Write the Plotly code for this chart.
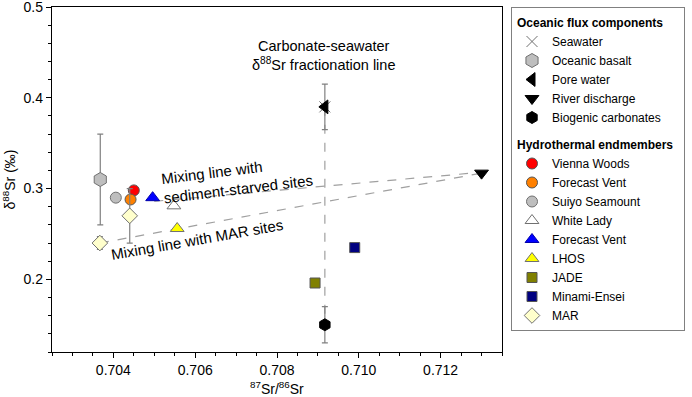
import plotly.graph_objects as go

# ---- data ----
ocean_names = ["Seawater", "Oceanic basalt", "Pore water", "River discharge", "Biogenic carbonates"]
ocean_x = [0.70917, 0.70368, 0.70917, 0.71300, 0.70917]
ocean_y = [0.390, 0.310, 0.390, 0.317, 0.150]
ocean_err = [None, 0.050, 0.025, None, 0.020]

hydro_names = ["Vienna Woods", "Forecast Vent", "Suiyo Seamount", "White Lady", "Forecast Vent",
               "LHOS", "JADE", "Minami-Ensei", "MAR"]
hydro_x = [[0.70450], [0.70442], [0.70406], [0.70548], [0.70496], [0.70556], [0.70893], [0.70990], [0.70367, 0.70440]]
hydro_y = [[0.298], [0.288], [0.290], [0.281], [0.290], [0.256], [0.196], [0.235], [0.240, 0.270]]
hydro_err = [[0.003], None, None, None, None, None, None, None, [0.007, 0.030]]

fract_line_x = [0.70917, 0.70917]
fract_line_y = [0.390, 0.150]
starved_line_x = [0.70500, 0.71300]
starved_line_y = [0.2860, 0.3180]
mar_line_x = [0.70367, 0.71300]
mar_line_y = [0.240, 0.317]

x_ticks = [0.704, 0.706, 0.708, 0.710, 0.712]
y_ticks = [0.2, 0.3, 0.4, 0.5]

ocean_style = [
    dict(symbol="x-thin-open", size=11, color="#707070", line=dict(color="#707070", width=1)),
    dict(symbol="hexagon", size=14, color="#BEBEBE", line=dict(color="#707070", width=1)),
    dict(symbol="triangle-left", size=12, color="black", line=dict(color="black", width=1)),
    dict(symbol="triangle-down", size=12, color="black", line=dict(color="black", width=1)),
    dict(symbol="hexagon", size=12, color="black", line=dict(color="black", width=1)),
]
hydro_style = [
    dict(symbol="circle", size=11, color="#FF0000", line=dict(color="#555555", width=1)),
    dict(symbol="circle", size=11, color="#FF8000", line=dict(color="#555555", width=1)),
    dict(symbol="circle", size=11, color="#BEBEBE", line=dict(color="#707070", width=1)),
    dict(symbol="triangle-up", size=12, color="white", line=dict(color="#707070", width=1)),
    dict(symbol="triangle-up", size=12, color="#0000FF", line=dict(color="#0000AA", width=1)),
    dict(symbol="triangle-up", size=12, color="#FFFF00", line=dict(color="#707070", width=1)),
    dict(symbol="square", size=10, color="#808000", line=dict(color="#555555", width=1)),
    dict(symbol="square", size=10, color="#000080", line=dict(color="#555555", width=1)),
    dict(symbol="diamond", size=12, color="#FFFFCC", line=dict(color="#707070", width=1)),
]

FONT = "Arial, Liberation Sans, sans-serif"
fig = go.Figure()

dash = dict(color="#A0A0A0", width=1.2, dash="dash")
for lx, ly in [(fract_line_x, fract_line_y), (starved_line_x, starved_line_y), (mar_line_x, mar_line_y)]:
    fig.add_trace(go.Scatter(x=lx, y=ly, mode="lines", line=dash, showlegend=False, hoverinfo="skip"))

def errd(e):
    if e is None:
        return None
    return dict(type="data", array=e, visible=True, color="#808080", thickness=1.2, width=3)

for i, n in enumerate(ocean_names):
    fig.add_trace(go.Scatter(
        x=[ocean_x[i]], y=[ocean_y[i]], mode="markers", name=n,
        marker=ocean_style[i],
        error_y=errd(None if ocean_err[i] is None else [ocean_err[i]]),
        legendgroup="ocean", legendgrouptitle=dict(text="<b>Oceanic flux components</b>"),
    ))

for i, n in enumerate(hydro_names):
    fig.add_trace(go.Scatter(
        x=hydro_x[i], y=hydro_y[i], mode="markers", name=n,
        marker=hydro_style[i],
        error_y=errd(hydro_err[i]),
        legendgroup="hydro", legendgrouptitle=dict(text="<b>Hydrothermal endmembers</b>"),
    ))

fig.add_annotation(x=0.70913, y=0.4466, xref="x", yref="y", showarrow=False,
                   text="Carbonate-seawater<br>δ<sup>88</sup>Sr fractionation line",
                   font=dict(size=14.5, family=FONT, color="black"), align="center")
fig.add_annotation(x=0.70702, y=0.3105, xref="x", yref="y", showarrow=False, textangle=-7,
                   text="Mixing line with<br>sediment-starved sites",
                   font=dict(size=15, family=FONT, color="black"), align="left")
fig.add_annotation(x=0.70605, y=0.2435, xref="x", yref="y", showarrow=False, textangle=-10,
                   text="Mixing line with MAR sites",
                   font=dict(size=15, family=FONT, color="black"))
fig.add_annotation(x=0.5, y=-0.104, xref="paper", yref="paper", showarrow=False,
                   text="<sup>87</sup>Sr/<sup>86</sup>Sr", yanchor="middle",
                   font=dict(size=14, family=FONT, color="black"))

fig.update_layout(
    width=692, height=397,
    margin=dict(l=52, r=183, t=7, b=45),
    plot_bgcolor="white", paper_bgcolor="white",
    font=dict(family=FONT, size=14, color="black"),
    legend=dict(x=1.02, y=1.0, xanchor="left", yanchor="top",
                bordercolor="#808080", borderwidth=1, bgcolor="white",
                font=dict(size=12, family=FONT), tracegroupgap=8,
                grouptitlefont=dict(size=12, family=FONT)),
    xaxis=dict(range=[0.7025, 0.7135], tickvals=x_ticks, ticktext=[f"{v:.3f}" for v in x_ticks],
               showgrid=False, zeroline=False, showline=True, mirror=True, automargin=False,
               linecolor="black", linewidth=1.3, ticks="outside", ticklen=5, tickcolor="black",
               ticklabeloverflow="allow",
               minor=dict(ticks="outside", ticklen=3, tick0=0.7025, dtick=0.0005, tickcolor="black"),
               tickfont=dict(size=14)),
    yaxis=dict(range=[0.12, 0.5], tickvals=y_ticks, ticktext=["0.2", "0.3", "0.4", "0.5"],
               showgrid=False, zeroline=False, showline=True, mirror=True, automargin=False,
               linecolor="black", linewidth=1.3, ticks="outside", ticklen=5, tickcolor="black",
               ticklabeloverflow="allow",
               minor=dict(ticks="outside", ticklen=3, tick0=0.1, dtick=0.02, tickcolor="black"),
               title=dict(text="δ<sup>88</sup>Sr (‰)", font=dict(size=14), standoff=4),
               tickfont=dict(size=14)),
)

fig.write_html("out.html", config={"displayModeBar": False},
               post_script="document.body.style.margin='0';")
